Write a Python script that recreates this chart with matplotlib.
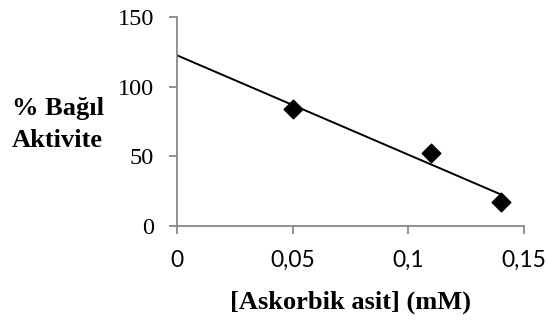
import numpy as np
import matplotlib
matplotlib.use('Agg')
import matplotlib.pyplot as plt

# ascorbic acid concentration (mM) vs relative activity (%)
conc = [0.05, 0.11, 0.14]
activity = [84, 52, 17]
x_ticks = [0, 0.05, 0.1, 0.15]
x_tick_labels = ['0', '0,05', '0,1', '0,15']
y_ticks = [0, 50, 100, 150]

fig = plt.figure(figsize=(5.48, 3.2), dpi=100)
ax = fig.add_axes([0.323, 0.295, 0.633, 0.652])

# linear trendline over data range
slope, inter = np.polyfit(conc, activity, 1)
xl = np.array([0, max(conc)])
ax.plot(xl, slope * xl + inter, color='black', lw=1.4)
ax.scatter(conc, activity, marker='D', s=90, color='black', zorder=3)

ax.set_xlim(0, 0.15)
ax.set_ylim(0, 150)
ax.set_xticks(x_ticks)
ax.set_xticklabels(x_tick_labels, fontfamily='Lato', fontsize=16.5)
ax.set_yticks(y_ticks)
ax.set_yticklabels([str(v) for v in y_ticks], fontfamily='Liberation Serif', fontsize=17.5)

for s in ['top', 'right']:
    ax.spines[s].set_visible(False)
for s in ['left', 'bottom']:
    ax.spines[s].set_color('#888888')
    ax.spines[s].set_linewidth(1.3)
ax.tick_params(axis='both', color='#888888', width=1.3, length=5.5, direction='out')
ax.tick_params(axis='x', pad=12)
ax.tick_params(axis='y', pad=11)

fig.text(0.022, 1 - 115 / 320, '% Bağıl', fontfamily='Liberation Serif',
         fontweight='bold', fontsize=19, ha='left', va='baseline')
fig.text(0.022, 1 - 147 / 320, 'Aktivite', fontfamily='Liberation Serif',
         fontweight='bold', fontsize=19, ha='left', va='baseline')
fig.text(0.639, 1 - 309 / 320, '[Askorbik asit] (mM)', fontfamily='Liberation Serif',
         fontweight='bold', fontsize=19, ha='center', va='baseline')

fig.savefig('out.png', dpi=100)
